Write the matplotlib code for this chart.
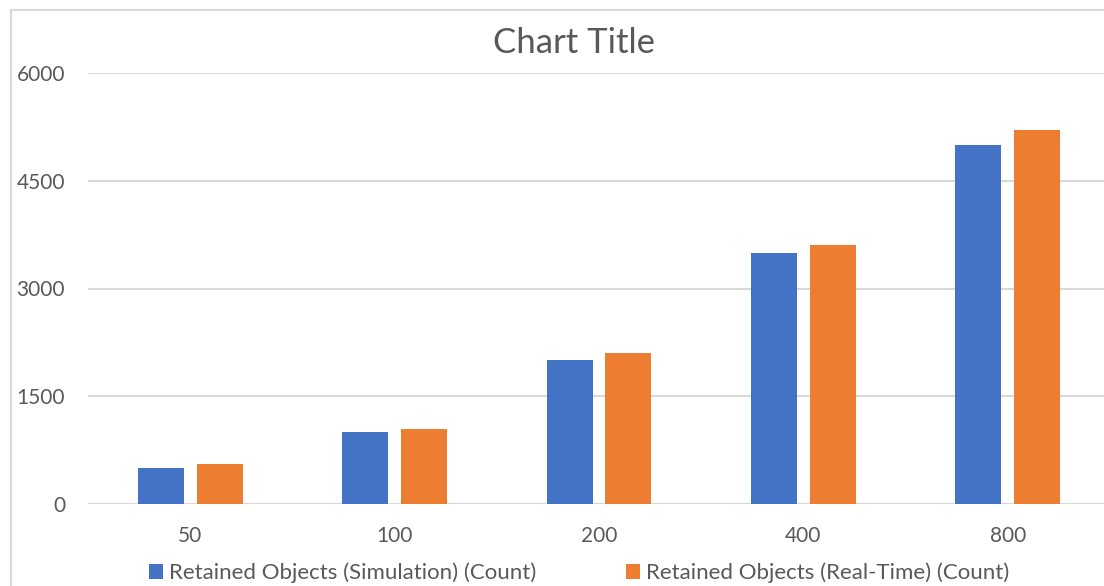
import matplotlib.pyplot as plt
from matplotlib.lines import Line2D
import numpy as np

plt.rcParams['font.family'] = ['Lato', 'DejaVu Sans']

categories = ['50', '100', '200', '400', '800']
simulation = [500, 1000, 2000, 3500, 5000]
real_time = [550, 1050, 2100, 3600, 5200]
y_ticks = [0, 1500, 3000, 4500, 6000]

blue = '#4472C4'
orange = '#ED7D31'
text_col = '#595959'
grid_col = '#D9D9D9'

W, H = 1104, 586
fig = plt.figure(figsize=(W / 100, H / 100), dpi=100)

# plot area in pixels: left 88, right ~1110, y=0 at 504, y=6000 at 73
ax = fig.add_axes([88 / W, (H - 504) / H, (1110 - 88) / W, (504 - 73) / H])

x = np.arange(len(categories))
bw = 0.225
off = 0.144
ax.bar(x - off, simulation, bw, color=blue, label='Retained Objects (Simulation) (Count)', zorder=3)
ax.bar(x + off, real_time, bw, color=orange, label='Retained Objects (Real-Time) (Count)', zorder=3)

ax.set_xlim(-0.5, len(categories) - 0.5)
ax.set_ylim(0, 6000)
ax.set_yticks(y_ticks)
ax.set_xticks(x)
ax.set_xticklabels(categories)
ax.yaxis.grid(True, color=grid_col, lw=1.5, zorder=0)
ax.set_axisbelow(True)
for s in ax.spines.values():
    s.set_visible(False)
ax.tick_params(axis='both', length=0, labelsize=15, labelcolor=text_col)
ax.tick_params(axis='y', pad=16.5)
ax.tick_params(axis='x', pad=16)

fig.text(574 / W, 1 - 53 / H, 'Chart Title', ha='center', va='baseline',
         fontsize=25, color=text_col)

# chart area border (left and top edges)
fig.add_artist(Line2D([11 / W, 11 / W], [0, 1 - 10 / H], transform=fig.transFigure,
                      color=grid_col, lw=1.5))
fig.add_artist(Line2D([11 / W, 1], [1 - 10 / H, 1 - 10 / H], transform=fig.transFigure,
                      color=grid_col, lw=1.5))

leg = fig.legend(loc='center', bbox_to_anchor=(579 / W, 13 / H), ncol=2, frameon=False,
                 fontsize=16, handlelength=0.63, handleheight=0.63, handletextpad=0.27,
                 columnspacing=4.05, borderpad=0)
for t in leg.get_texts():
    t.set_color(text_col)

fig.savefig('out.png', dpi=100)
